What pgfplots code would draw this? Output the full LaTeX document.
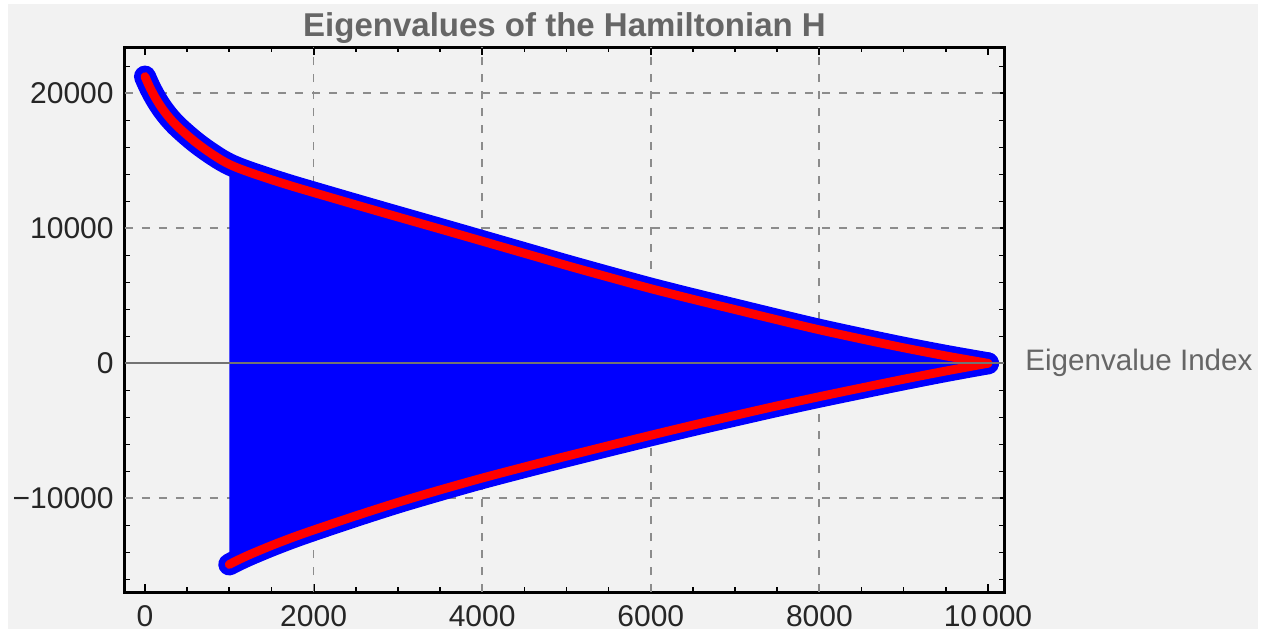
\documentclass[border=0pt]{standalone}
\usepackage{pgfplots}
\pgfplotsset{compat=1.18}
\usepackage{pgfplotstable}
\usepackage{fontspec}
\setmainfont{Liberation Sans}
\definecolor{bg}{HTML}{F2F2F2}
\definecolor{titlegray}{HTML}{666666}
\definecolor{gridgray}{HTML}{8C8C8C}
\definecolor{mblue}{RGB}{0,0,255}
\definecolor{mred}{RGB}{255,0,0}

\pgfplotstableread{
x y
0 21240
50 20540
100 19930
150 19390
200 18910
250 18490
300 18110
350 17770
400 17460
500 16900
600 16380
700 15910
800 15480
900 15080
1000 14740
1100 14470
1250 14125
1500 13600
1750 13110
2000 12650
2500 11740
3000 10840
3500 9950
4000 9050
4500 8150
5000 7250
5500 6380
6000 5530
6500 4740
7000 3980
7500 3220
8000 2480
8500 1800
9000 1150
9500 550
10000 0
}\uppercurve

\pgfplotstableread{
x y
1000 -14900
1100 -14580
1250 -14150
1500 -13500
1750 -12900
2000 -12350
2500 -11300
3000 -10300
3500 -9380
4000 -8500
4500 -7680
5000 -6880
5500 -6100
6000 -5330
6500 -4580
7000 -3860
7500 -3150
8000 -2470
8500 -1820
9000 -1180
9500 -570
10000 0
}\lowercurve

\begin{document}
\begin{tikzpicture}
\fill[white] (0,0) rectangle (635pt,317pt);
\useasboundingbox (0,0) rectangle (635pt,317pt);
\fill[bg] (4pt,2.5pt) rectangle (629pt,315pt);
\begin{axis}[
  at={(62.5pt,21pt)}, anchor=south west,
  scale only axis, width=439.5pt, height=272.5pt,
  xmin=-237, xmax=10190, ymin=-16940, ymax=23430,
  clip=false, scaled ticks=false,
  xtick={0,2000,4000,6000,8000,10000},
  xticklabels={0,2000,4000,6000,8000,10\,000},
  ytick={-10000,0,10000,20000},
  yticklabels={−10000,0,10000,20000},
  minor xtick={0,500,...,10000},
  minor ytick={-16000,-14000,...,22000},
  major tick length=4pt, minor tick length=2.5pt,
  tick style={black, line width=1pt},
  minor tick style={black, line width=0.8pt},
  axis line style={black, line width=1.5pt},
  tick label style={font=\fontsize{15}{15}\selectfont, text=black!85, inner sep=0pt},
  yticklabel style={xshift=-5.5pt},
  xticklabel style={yshift=-6.5pt},
  extra x ticks={2000,4000,6000,8000}, extra x tick labels={},
  extra x tick style={grid=major, major tick length=0pt},
  extra y ticks={-10000,10000,20000}, extra y tick labels={},
  extra y tick style={grid=major, major tick length=0pt},
  major grid style={gridgray, line width=0.9pt, dash pattern=on 4pt off 4.5pt},
]
\addplot[fill=mblue, draw=none] coordinates {
(1000,14740) (1100,14470) (1250,14125) (1500,13600) (1750,13110) (2000,12650) (2500,11740)
(3000,10840) (3500,9950) (4000,9050) (4500,8150) (5000,7250) (5500,6380)
(6000,5530) (6500,4740) (7000,3980) (7500,3220) (8000,2480) (8500,1800)
(9000,1150) (9500,550) (10000,0)
(9500,-570) (9000,-1180) (8500,-1820) (8000,-2470) (7500,-3150) (7000,-3860)
(6500,-4580) (6000,-5330) (5500,-6100) (5000,-6880) (4500,-7680) (4000,-8500)
(3500,-9380) (3000,-10300) (2500,-11300) (2000,-12350) (1750,-12900)
(1500,-13500) (1250,-14150) (1100,-14580) (1000,-14900)
} -- cycle;
\addplot[mblue, line width=11pt, line cap=round, line join=round, smooth] table {\uppercurve};
\addplot[mblue, line width=11pt, line cap=round, line join=round, smooth] table {\lowercurve};
\addplot[mred, line width=4.4pt, line cap=round, line join=round, smooth] table {\uppercurve};
\addplot[mred, line width=4.4pt, line cap=round, line join=round, smooth] table {\lowercurve};
\draw[gray!90!black, line width=0.9pt] (axis cs:-237,0) -- (axis cs:10190,0);
\node[anchor=base west, xshift=10.5pt, yshift=-3.5pt, inner sep=0pt, text=titlegray,
  font=\fontsize{14.8}{15}\selectfont] at (axis cs:10190,0) {Eigenvalue Index};
\node[anchor=base, yshift=5.5pt, inner sep=0pt, text=titlegray,
  font=\bfseries\fontsize{16.5}{18}\selectfont] at (rel axis cs:0.5,1) {Eigenvalues of the Hamiltonian H};
\end{axis}
\end{tikzpicture}
\end{document}
